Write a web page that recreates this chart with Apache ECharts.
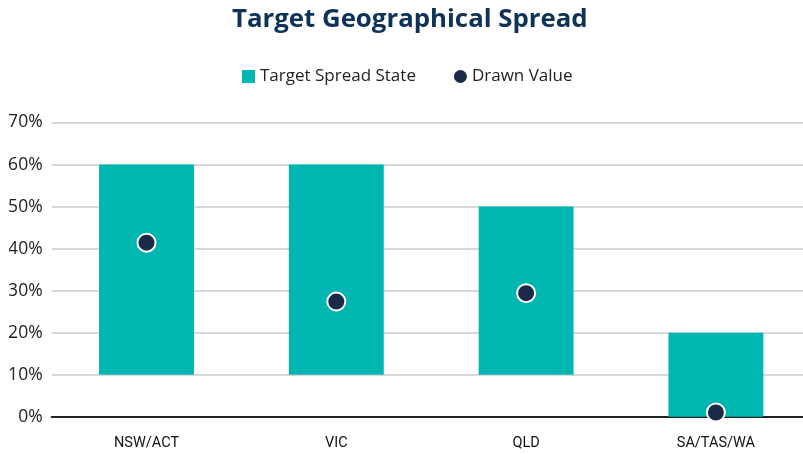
<!DOCTYPE html>
<html>
<head>
<meta charset="utf-8">
<script src="https://cdn.jsdelivr.net/npm/echarts@6/dist/echarts.min.js"></script>
<style>
html,body{margin:0;padding:0;background:#fff;}
#chart{width:803px;height:454px;}
</style>
</head>
<body>
<div id="chart"></div>
<script>
const categories = ['NSW/ACT', 'VIC', 'QLD', 'SA/TAS/WA'];
const targetLow = [10, 10, 10, 0];
const targetHigh = [60, 60, 50, 20];
const drawnValue = [41.4, 27.4, 29.4, 1.0];
const yTicks = [0, 10, 20, 30, 40, 50, 60, 70];

const chart = echarts.init(document.getElementById('chart'));
chart.setOption({
  animation: false,
  backgroundColor: '#ffffff',
  title: {
    text: 'Target Geographical Spread',
    left: 227,
    top: 2,
    textStyle: { fontFamily: 'Open Sans', fontWeight: 'bold', fontSize: 25.8, color: '#0f3358' }
  },
  legend: {
    top: 63,
    left: 237,
    itemGap: 38,
    itemWidth: 13,
    itemHeight: 13,
    textStyle: { fontFamily: 'Open Sans', fontSize: 17, color: '#222' },
    data: [
      { name: 'Target Spread State', icon: 'rect' },
      { name: 'Drawn Value', icon: 'circle', itemStyle: { borderWidth: 0 } }
    ]
  },
  grid: { left: 51.6, width: 759.2, top: 122.5, bottom: 37.3, containLabel: false, outerBoundsMode: 'none' },
  xAxis: {
    type: 'category',
    data: categories,
    axisTick: { show: false },
    axisLine: { lineStyle: { color: '#222', width: 2 } },
    axisLabel: { fontFamily: 'Roboto', fontSize: 14.5, color: '#111', margin: 19 }
  },
  yAxis: {
    type: 'value',
    min: yTicks[0],
    max: yTicks[yTicks.length - 1],
    interval: 10,
    axisLine: { show: false },
    axisTick: { show: false },
    splitLine: { lineStyle: { color: '#d9d9d9', width: 2 } },
    axisLabel: { fontFamily: 'Open Sans', fontSize: 17.5, color: '#222', margin: 9, formatter: v => v + '%' }
  },
  graphic: [{
    type: 'rect', left: 0, top: 105, z: 100,
    shape: { width: 9, height: 330 },
    style: { fill: '#ffffff' }
  }],
  series: [
    {
      name: 'base', type: 'bar', stack: 'range', barWidth: '50%',
      itemStyle: { color: 'transparent' },
      emphasis: { disabled: true },
      data: targetLow
    },
    {
      name: 'Target Spread State', type: 'bar', stack: 'range', barWidth: '50%',
      itemStyle: { color: '#00b6b1' },
      data: targetHigh.map((h, i) => h - targetLow[i])
    },
    {
      name: 'Drawn Value', type: 'scatter', symbol: 'circle', symbolSize: 18,
      itemStyle: { color: '#1b2a48', borderColor: '#ffffff', borderWidth: 2, opacity: 1 },
      z: 5,
      data: drawnValue
    }
  ]
});
</script>
</body>
</html>
